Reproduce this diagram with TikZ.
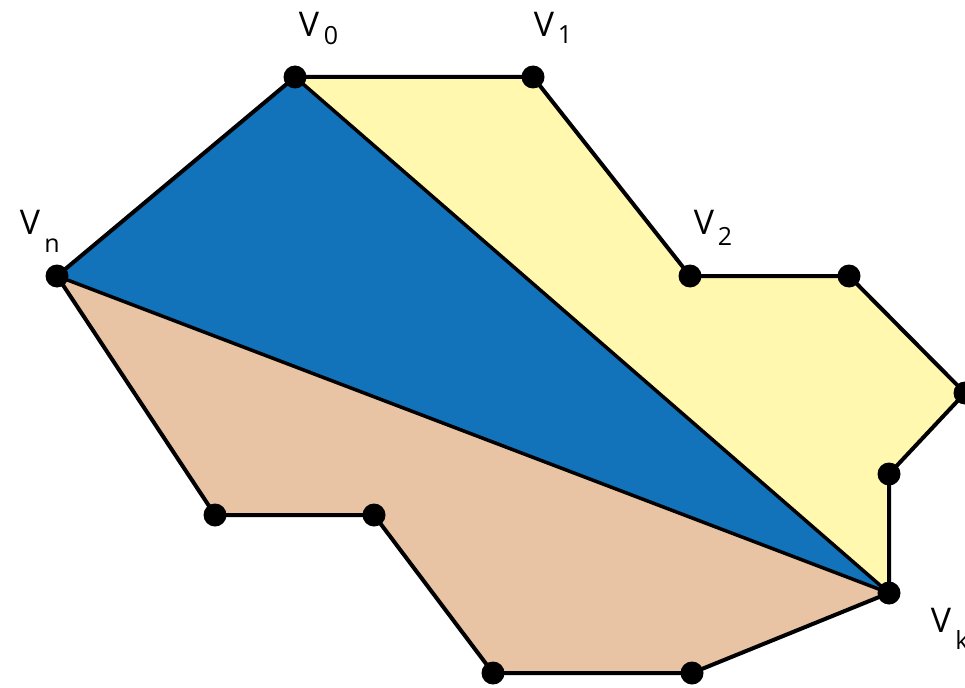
\documentclass[tikz,border=0pt]{standalone}
\usepackage{fontspec}
\setmainfont{Open Sans}
\definecolor{bluefill}{HTML}{1272BA}
\definecolor{yellowfill}{HTML}{FFF8AE}
\definecolor{tanfill}{HTML}{E8C4A4}
\tikzset{
  edge/.style={draw=black, line width=4pt, line join=round},
  vdot/.style={circle, fill=black, inner sep=0pt, minimum size=23pt},
  vlabel/.style={inner sep=0pt, font=\fontsize{34}{34}\selectfont},
  sublabel/.style={inner sep=0pt, font=\fontsize{25}{25}\selectfont}
}
\begin{document}
\begin{tikzpicture}[x=1pt,y=-1pt]
\useasboundingbox (0,0) rectangle (965,687);
\coordinate (v0) at (295,77);
\coordinate (v1) at (533,77);
\coordinate (v2) at (690,276);
\coordinate (a) at (849,276);
\coordinate (b) at (965,393);
\coordinate (c) at (889,474);
\coordinate (vk) at (889,593);
\coordinate (d) at (692,673);
\coordinate (e) at (493,673);
\coordinate (f) at (374,515);
\coordinate (g) at (215,515);
\coordinate (vn) at (57,276);
\fill[yellowfill] (v0) -- (v1) -- (v2) -- (a) -- (b) -- (c) -- (vk) -- cycle;
\fill[bluefill] (v0) -- (vk) -- (vn) -- cycle;
\fill[tanfill] (vn) -- (vk) -- (d) -- (e) -- (f) -- (g) -- cycle;
\draw[edge] (v0) -- (v1) -- (v2) -- (a) -- (b) -- (c) -- (vk) -- (d) -- (e) -- (f) -- (g) -- (vn) -- cycle;
\draw[edge, line width=3.5pt] (v0) -- (vk) -- (vn);
\foreach \p in {v0,v1,v2,a,b,c,vk,d,e,f,g,vn} \node[vdot] at (\p) {};
\node[vlabel] (l0) at (309,24) {V};
\node[sublabel] (s0) at (331,36) {0};
\node[vlabel] (l1) at (544,24) {V};
\node[sublabel] (s1) at (565,35) {1};
\node[vlabel] (l2) at (704,222) {V};
\node[sublabel] (s2) at (725,236) {2};
\node[vlabel] (ln) at (30,222) {V};
\node[sublabel] (sn) at (52,246) {n};
\node[vlabel] (lk) at (941,620) {V};
\node[sublabel] (sk) at (962,640) {k};
\end{tikzpicture}
\end{document}
